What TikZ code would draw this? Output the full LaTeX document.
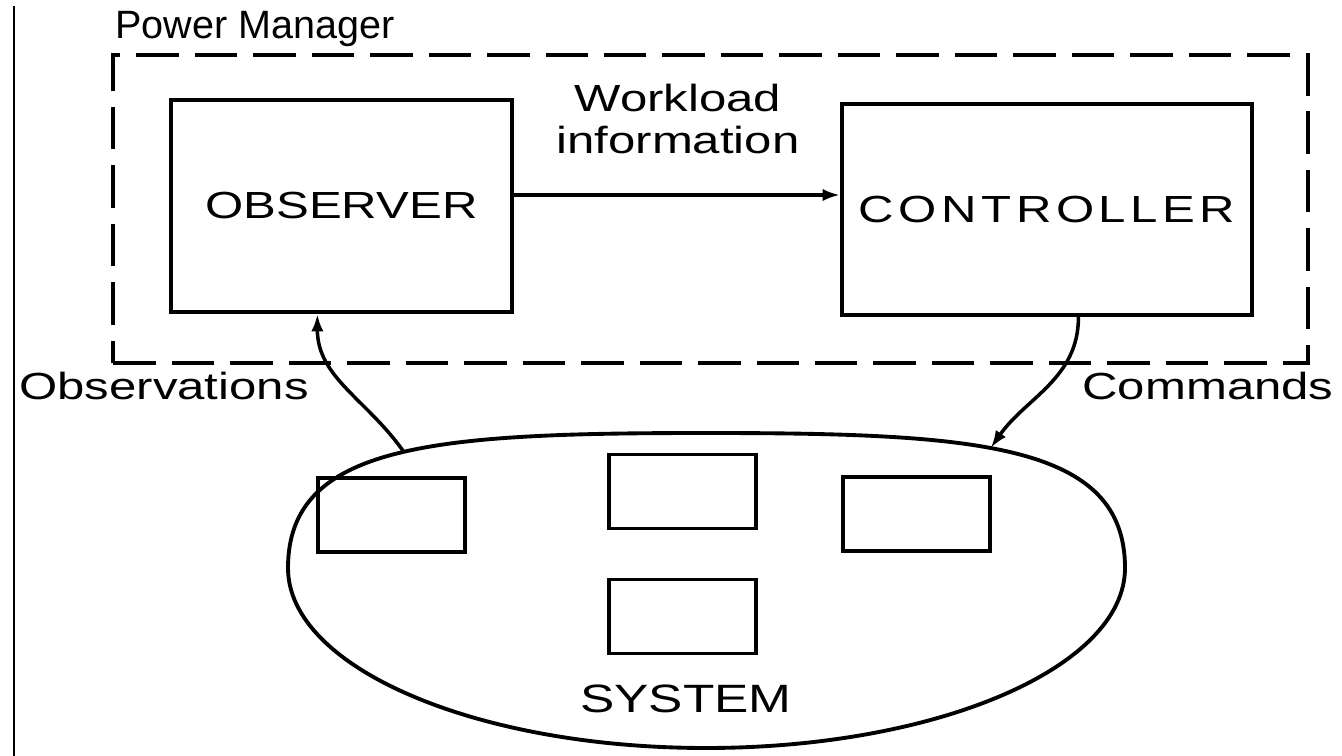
\documentclass[tikz,border=0pt]{standalone}
\usepackage{fontspec}
\setmainfont{Liberation Sans}
\newfontfamily\widefont[FakeStretch=1.3]{Liberation Sans}
\newfontfamily\spacedfont[FakeStretch=1.3,LetterSpace=12]{Liberation Sans}
\usetikzlibrary{arrows.meta,positioning,shapes.geometric,calc}

\begin{document}
\begin{tikzpicture}[
  x=0.02cm, y=-0.02cm,
  blk/.style={draw, line width=2.2pt, inner sep=0pt, font=\widefont\fontsize{21.5}{26}\selectfont},
  unit/.style={draw, line width=2.2pt, minimum width=2.94cm, minimum height=1.48cm, inner sep=0pt},
  pmbox/.style={draw, line width=2.4pt, dash pattern=on 0.85cm off 0.32cm, minimum width=23.9cm, minimum height=6.16cm, inner sep=0pt},
  lbl/.style={inner sep=0pt, align=center, font=\widefont\fontsize{21.5}{24}\selectfont},
  arr/.style={-{Latex[length=10pt,width=7pt]}, line width=2pt}
]
\useasboundingbox (0,0) rectangle (1342,756);
\draw[line width=0.8pt] (14,6) -- (14,756);

% power manager frame
\node[pmbox] (pm) at (710.5,209) {};
\node[anchor=base west, inner sep=0pt, font=\fontsize{22.5}{27}\selectfont]
  (pmt) at ([xshift=0.08cm, yshift=0.28cm]pm.north west) {Power Manager};

\node[blk, minimum width=6.82cm, minimum height=4.24cm] (obs) at (341.5,206) {OBSERVER};
\node[blk, minimum width=8.2cm, minimum height=4.22cm, font=\spacedfont\fontsize{21.5}{26}\selectfont] (ctl) at (1047,209.5) {CONTROLLER};
\node[lbl] (wl) at (678,119) {Workload\\information};

% system outline: fuller on top, elliptic below
\coordinate (sw) at (288,568);
\coordinate (sn) at (706,433);
\coordinate (se) at (1125,568);
\coordinate (ss) at (706,748);
\draw[line width=2.2pt] (sw)
  .. controls ($(sw)!0.92!(sw|-sn)$) and ($(sn)!0.65!(sw|-sn)$) .. (sn) coordinate[pos=0.52] (sysob)
  .. controls ($(sn)!0.65!(se|-sn)$) and ($(se)!0.92!(se|-sn)$) .. (se) coordinate[pos=0.44] (syscm)
  .. controls ($(se)!0.552!(se|-ss)$) and ($(ss)!0.552!(se|-ss)$) .. (ss)
  .. controls ($(ss)!0.552!(sw|-ss)$) and ($(sw)!0.552!(sw|-ss)$) .. cycle;

\node[unit] (u1) at (391.5,515) {};
\node[unit] (u2) at (682.5,491.5) {};
\node[unit] (u3) at (916.5,514) {};
\node[unit] (u4) at (682.5,616.5) {};
\node[lbl, font=\widefont\fontsize{22.5}{27}\selectfont] (sy) at (686,699) {SYSTEM};

\node[lbl] (ob) at (164,386) {Observations};
\node[lbl] (cm) at (1208,386) {Commands};

\draw[arr] ([yshift=0.22cm]obs.east) -- ([yshift=0.22cm]obs.east -| ctl.west);
\draw[arr] (sysob) to[out=125, in=-90] ($(obs.south west)!0.43!(obs.south east)$);
\draw[arr] ($(ctl.south west)!0.576!(ctl.south east)$) to[out=-90, in=55] (syscm);
\end{tikzpicture}
\end{document}
